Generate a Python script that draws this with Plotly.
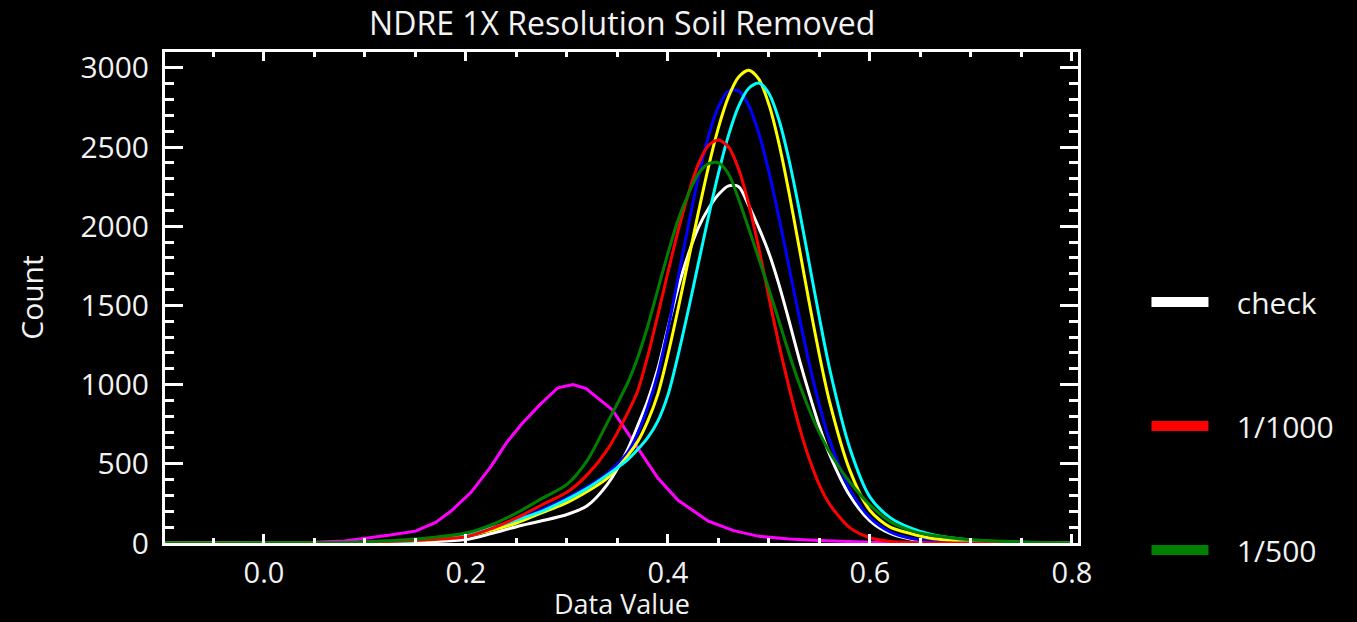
import plotly.graph_objects as go

# ---------------- data ----------------
X_GRID = [-0.1, -0.05, 0.0, 0.05, 0.1, 0.15, 0.2, 0.225, 0.25, 0.275, 0.3, 0.32, 0.34, 0.36,
          0.37, 0.38, 0.39, 0.40, 0.41, 0.42, 0.43, 0.44, 0.45, 0.46, 0.47, 0.48, 0.49, 0.50,
          0.51, 0.52, 0.53, 0.54, 0.55, 0.56, 0.58, 0.60, 0.62, 0.64, 0.66, 0.70, 0.75, 0.80]

check_y = [0, 0, 0, 0, 1, 5, 22, 60, 103, 140, 180, 235, 370, 590,
           740, 900, 1100, 1360, 1610, 1820, 1990, 2110, 2200, 2255, 2250, 2130, 1990, 1830,
           1630, 1400, 1160, 940, 735, 560, 300, 140, 60, 25, 10, 3, 1, 0]

r1000_y = [0, 0, 0, 1, 5, 18, 40, 90, 158, 240, 320, 430, 590, 820,
           960, 1180, 1440, 1710, 1970, 2200, 2390, 2510, 2545, 2500, 2360, 2140, 1860, 1550,
           1250, 980, 735, 530, 365, 245, 97, 33, 10, 3, 1, 0, 0, 0]

r500_y = [0, 0, 1, 2, 8, 25, 63, 115, 189, 280, 370, 520, 760, 1010,
          1170, 1370, 1600, 1830, 2040, 2200, 2330, 2395, 2400, 2330, 2170, 1985, 1795, 1600,
          1400, 1195, 1005, 840, 695, 575, 385, 240, 135, 80, 50, 20, 6, 1]

blue_y = [0, 0, 0, 1, 4, 15, 50, 90, 145, 210, 285, 355, 440, 570,
          690, 860, 1070, 1350, 1673, 2000, 2305, 2566, 2755, 2854, 2854, 2762, 2586, 2342,
          2051, 1739, 1426, 1131, 869, 650, 340, 160, 70, 30, 14, 4, 1, 0]

yellow_y = [0, 0, 0, 0, 3, 12, 45, 80, 126, 190, 255, 325, 410, 550,
            640, 770, 940, 1190, 1477, 1780, 2084, 2372, 2623, 2818, 2942, 2985, 2929, 2768,
            2520, 2208, 1863, 1514, 1185, 893, 460, 205, 100, 60, 30, 10, 3, 0]

cyan_y = [0, 0, 0, 1, 4, 14, 50, 95, 145, 200, 275, 345, 430, 525,
          590, 665, 770, 935, 1185, 1466, 1762, 2057, 2335, 2575, 2758, 2871, 2904, 2838,
          2669, 2415, 2103, 1762, 1421, 1102, 600, 290, 160, 95, 55, 18, 5, 1]

magenta_x = [-0.1, 0.0, 0.05, 0.08, 0.10, 0.125, 0.15, 0.17, 0.185, 0.205, 0.225, 0.24, 0.255,
             0.273, 0.291, 0.306, 0.319, 0.332, 0.345, 0.369, 0.39, 0.41, 0.44, 0.465, 0.49,
             0.52, 0.55, 0.60, 0.65, 0.80]
magenta_y = [0, 1, 4, 12, 28, 50, 75, 130, 200, 320, 485, 632, 750,
             872, 980, 1000, 975, 910, 840, 610, 410, 270, 138, 78, 42,
             25, 15, 5, 2, 0]

LEGEND_NAMES = ["check", "1/1000", "1/500"]
LEGEND_COLORS = ["#ffffff", "#ff0000", "#008000"]

X_TICKS = [0.0, 0.2, 0.4, 0.6, 0.8]
Y_TICKS = [0, 500, 1000, 1500, 2000, 2500, 3000]

# ---------------- figure ----------------
FONT = "Open Sans"
TXT = "#f2f2f2"

series = [
    (magenta_x, magenta_y, "#ff00ff", "linear"),
    (X_GRID, check_y, "#ffffff", "spline"),
    (X_GRID, blue_y, "#0000ff", "spline"),
    (X_GRID, yellow_y, "#ffff00", "spline"),
    (X_GRID, cyan_y, "#00ffff", "spline"),
    (X_GRID, r1000_y, "#ff0000", "spline"),
    (X_GRID, r500_y, "#008000", "spline"),
]

fig = go.Figure()
for xs, ys, col, shp in series:
    fig.add_trace(go.Scatter(x=xs, y=ys, mode="lines",
                             line=dict(color=col, width=3, shape=shp, smoothing=0.8),
                             showlegend=False, hoverinfo="skip"))

# legend entries
for name, col in zip(LEGEND_NAMES, LEGEND_COLORS):
    fig.add_trace(go.Scatter(x=[None], y=[None], mode="lines",
                             line=dict(color=col, width=10),
                             name="\u00a0\u00a0\u00a0" + name, legendgroup=name, showlegend=True))

axis_common = dict(
    showline=True, linecolor="white", linewidth=3, mirror="allticks",
    ticks="inside", tickcolor="white", tickwidth=3,
    showgrid=False, zeroline=False, automargin=False,
)

fig.update_layout(
    width=1357, height=622,
    paper_bgcolor="black", plot_bgcolor="black",
    margin=dict(l=165, r=279, t=52, b=79, autoexpand=False),
    font=dict(family=FONT, color=TXT),
    title=dict(text="NDRE 1X Resolution Soil Removed", x=0.4585, xanchor="center",
               y=0.962, yanchor="middle", yref="container",
               font=dict(family=FONT, size=32, color=TXT)),
    xaxis=dict(range=[-0.098, 0.806], tickvals=X_TICKS, tickformat=".1f", ticklen=9,
               minor=dict(dtick=0.05, tick0=0, ticklen=5, tickwidth=3, tickcolor="white", ticks="inside"),
               ticklabelstandoff=2,
               tickfont=dict(family=FONT, size=29, color=TXT),
               **axis_common),
    yaxis=dict(range=[0, 3100], tickvals=Y_TICKS, ticklen=18,
               minor=dict(dtick=100, tick0=0, ticklen=9, tickwidth=3, tickcolor="white", ticks="inside"),
               title=dict(text="Count", font=dict(family=FONT, size=30, color=TXT), standoff=28),
               ticklabelstandoff=7,
               tickfont=dict(family=FONT, size=30, color=TXT),
               **axis_common),
    legend=dict(x=1.075, xanchor="left", y=0.544, yanchor="top",
                bgcolor="rgba(0,0,0,0)", font=dict(family=FONT, size=30, color=TXT),
                itemwidth=57, tracegroupgap=82, traceorder="grouped"),
    showlegend=True,
    annotations=[dict(text="Data Value", x=0.5, xref="paper", y=0, yref="paper",
                      xanchor="center", yanchor="middle", yshift=-60, showarrow=False,
                      font=dict(family=FONT, size=27, color=TXT))],
)

fig.write_html("out.html", config={"displayModeBar": False},
               post_script="document.body.style.margin='0';document.body.style.overflow='hidden';")
